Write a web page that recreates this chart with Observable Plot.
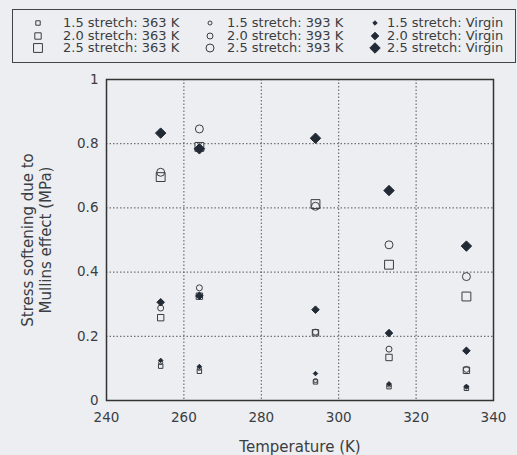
<!DOCTYPE html>
<html><head><meta charset="utf-8">
<script src="https://cdn.jsdelivr.net/npm/d3@7"></script>
<script src="https://cdn.jsdelivr.net/npm/@observablehq/plot@0.6"></script>
<style>
html,body{margin:0;padding:0;background:#eceef1;}
#wrap{width:517px;height:455px;overflow:hidden;font-family:"DejaVu Sans",sans-serif;color:#3a3d42;}
#legend{position:relative;width:517px;height:66px;}
#box{position:absolute;left:12px;top:9px;width:504px;height:54px;border:1px solid #444;box-sizing:border-box;}
.lab{position:absolute;font-size:13px;line-height:12px;height:12px;white-space:nowrap;}
.mk{position:absolute;width:12px;height:12px;overflow:visible;}
</style></head><body>
<div id="wrap"><div id="legend"><div id="box"></div></div><div id="chart"></div></div>
<script>
// ---- data ----
const temps = [254, 264, 294, 313, 333];
const stretches = ["1.5", "2.0", "2.5"];
const conditions = ["363 K", "393 K", "Virgin"];
const s15_363    = [0.107, 0.091, 0.058, 0.043, 0.038];
const s15_393    = [0.118, 0.100, 0.062, 0.048, 0.042];
const s15_virgin = [0.125, 0.106, 0.084, 0.052, 0.044];
const s20_363    = [0.258, 0.325, 0.211, 0.134, 0.094];
const s20_393    = [0.288, 0.351, 0.213, 0.160, 0.097];
const s20_virgin = [0.306, 0.326, 0.283, 0.210, 0.155];
const s25_363    = [0.696, 0.790, 0.612, 0.423, 0.324];
const s25_393    = [0.711, 0.846, 0.605, 0.485, 0.386];
const s25_virgin = [0.833, 0.784, 0.817, 0.654, 0.481];
const xTicks = [240, 260, 280, 300, 320, 340];
const yTicks = [0, 0.2, 0.4, 0.6, 0.8, 1];
const xLabel = "Temperature (K)";
const yLabel = "Stress softening due to\nMullins effect (MPa)";

// ---- styles ----
const ink = "#3a3d42";
const series = {
  "1.5|363 K": s15_363, "1.5|393 K": s15_393, "1.5|Virgin": s15_virgin,
  "2.0|363 K": s20_363, "2.0|393 K": s20_393, "2.0|Virgin": s20_virgin,
  "2.5|363 K": s25_363, "2.5|393 K": s25_393, "2.5|Virgin": s25_virgin
};
const condStyle = {
  "363 K":  {symbol: "square",   fill: "none", stroke: ink, r: {"1.5": 2.5, "2.0": 3.6, "2.5": 5.0}},
  "393 K":  {symbol: "circle",   fill: "none", stroke: ink, r: {"1.5": 2.0, "2.0": 3.0, "2.5": 4.0}},
  "Virgin": {symbol: "diamond2", fill: "#222a36", stroke: "#222a36", r: {"1.5": 2.0, "2.0": 3.4, "2.5": 4.7}}
};
const symbolMap = {square: d3.symbolSquare, circle: d3.symbolCircle, diamond2: d3.symbolDiamond2};

const rows = [];
for (const s of stretches) for (const c of conditions) {
  series[s + "|" + c].forEach((v, i) => rows.push({T: temps[i], v, stretch: s, cond: c}));
}

// ---- legend ----
const box = document.getElementById("legend");
const mx = [38, 210, 375], tx = [63, 227, 387], ry = [23, 35.5, 48];
stretches.forEach((s, i) => conditions.forEach((c, j) => {
  const st = condStyle[c];
  const svg = d3.create("svg").attr("class", "mk").attr("width", 12).attr("height", 12)
    .style("left", (mx[j] - 6) + "px").style("top", (ry[i] - 6) + "px");
  svg.append("path").attr("transform", "translate(6,6)")
    .attr("d", d3.symbol(symbolMap[st.symbol], Math.PI * st.r[s] ** 2)())
    .attr("fill", st.fill).attr("stroke", st.stroke).attr("stroke-width", 1);
  box.appendChild(svg.node());
  const t = document.createElement("div");
  t.className = "lab";
  t.textContent = s + " stretch: " + c;
  t.style.left = tx[j] + "px";
  t.style.top = (ry[i] - 6) + "px";
  box.appendChild(t);
}));

// ---- chart ----
const grid = {stroke: "#555", strokeOpacity: 1, strokeWidth: 1, strokeDasharray: "1.5,2"};
const marks = [
  Plot.gridX(xTicks.slice(1, -1), grid),
  Plot.gridY(yTicks.slice(1, -1), grid),
  Plot.axisX(xTicks, {tickSize: 0, tickPadding: 12, fontSize: 13.5, label: null, fill: ink}),
  Plot.axisY(yTicks, {tickSize: 0, tickPadding: 8, fontSize: 13.5, label: null, fill: ink, tickFormat: d => String(d)}),
  Plot.text([xLabel], {text: d => d, frameAnchor: "bottom", lineAnchor: "top", dy: 41, fontSize: 15, fill: ink}),
  Plot.text([yLabel], {text: d => d, frameAnchor: "left", textAnchor: "middle", lineAnchor: "middle", rotate: -90, dx: -70, fontSize: 15, lineHeight: 1.2, fill: ink}),
  Plot.frame({stroke: "#333", strokeWidth: 1.5})
];
for (const c of conditions) {
  const st = condStyle[c];
  marks.push(Plot.dot(rows.filter(d => d.cond === c), {
    x: "T", y: "v", r: d => st.r[d.stretch], symbol: st.symbol,
    fill: st.fill, stroke: st.stroke, strokeWidth: 1
  }));
}
const chart = Plot.plot({
  width: 517, height: 389,
  marginTop: 13, marginBottom: 55, marginLeft: 106, marginRight: 24,
  style: {background: "transparent", fontFamily: "DejaVu Sans, sans-serif", color: ink},
  x: {domain: [240, 340]},
  y: {domain: [0, 1]},
  r: {type: "identity"},
  marks
});
document.getElementById("chart").appendChild(chart);
</script>
</body></html>
